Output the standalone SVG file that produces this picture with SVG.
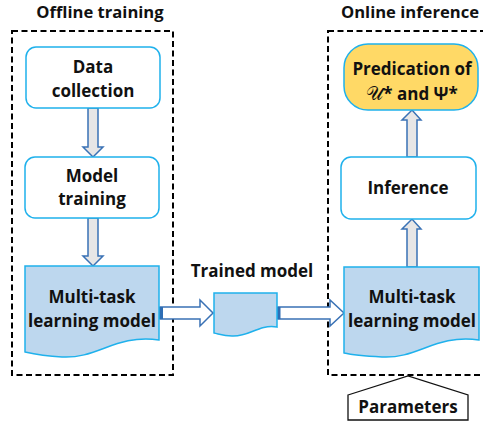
<svg xmlns="http://www.w3.org/2000/svg" width="483" height="425" viewBox="0 0 483 425">
  <style>
    .frame { fill: none; stroke: #000; stroke-width: 2; stroke-dasharray: 6 3.5; }
    .step { fill: #fff; stroke: #1FB1EC; stroke-width: 1.5; }
    .doc { fill: #BDD7EE; stroke: #1FB1EC; stroke-width: 1.5; }
    .result { fill: #FFD966; stroke: #1FB1EC; stroke-width: 1.5; }
    .flow { fill: #E7E6E6; stroke: #3A72B5; stroke-width: 1.5; stroke-linejoin: miter; }
    .pass { fill: #fff; stroke: #3A72B5; stroke-width: 1.5; stroke-linejoin: miter; }
    .tab { fill: #2E6DB4; }
    .label { font-family: "Open Sans", "Liberation Sans", sans-serif; font-weight: bold; font-size: 17px; fill: #111; text-anchor: middle; }
    .title { font-family: "Open Sans", "Liberation Sans", sans-serif; font-weight: bold; font-size: 16.6px; fill: #111; text-anchor: middle; }
    .math { font-family: "DejaVu Serif", "Liberation Serif", serif; font-weight: normal; font-size: 19px; }
    .tag { fill: #fff; stroke: #111; stroke-width: 1.3; }
  </style>

  <!-- stage frames -->
  <g id="offline-stage">
    <rect class="frame" x="12" y="31" width="161" height="344"/>
    <text class="title" x="100" y="18">Offline training</text>
  </g>
  <g id="online-stage">
    <rect class="frame" x="328" y="31" width="170" height="344"/>
    <text class="title" x="410" y="18">Online inference</text>
  </g>

  <!-- connectors -->
  <g id="connectors">
    <polygon class="flow" points="88,108 98,108 98,147 103,147 93,157 83,147 88,147"/>
    <polygon class="flow" points="88,218 98,218 98,256 103,256 93,266 83,256 88,256"/>
    <polygon class="flow" points="407,267 417,267 417,229 421,229 412,219 402,229 407,229"/>
    <polygon class="flow" points="407,157 417,157 417,120 421,120 412,110 402,120 407,120"/>
    <polygon class="pass" points="160,307 200,307 200,300 213,313 200,326 200,319 160,319"/>
    <rect class="tab" x="159" y="307" width="4" height="12"/>
    <polygon class="pass" points="278,307 330,307 330,300 344,313 330,326 330,319 278,319"/>
    <rect class="tab" x="277" y="307" width="3.5" height="12"/>
  </g>

  <g id="data-collection">
    <rect class="step" x="26" y="47" width="134" height="61" rx="10"/>
    <text class="label" x="93" y="73">Data</text>
    <text class="label" x="93" y="97">collection</text>
  </g>

  <g id="model-training">
    <rect class="step" x="25" y="157" width="134" height="61" rx="10"/>
    <text class="label" x="92" y="182">Model</text>
    <text class="label" x="92" y="205">training</text>
  </g>

  <g id="mtl-offline">
    <path class="doc" d="M25,266 H159 V340 C115,334 98,359 62,357 C45,356 34,354 25,352 Z"/>
    <text class="label" x="92" y="303">Multi-task</text>
    <text class="label" x="92" y="327">learning model</text>
  </g>

  <g id="trained-model">
    <path class="doc" d="M214,293 H277 V327 C258,324 250,337 232,336 C224,336 219,334 214,333 Z"/>
    <text class="label" x="252" y="277">Trained model</text>
  </g>

  <g id="mtl-online">
    <path class="doc" d="M344,267 H479 V340 C435,334 418,359 382,357 C365,356 353,355 344,353 Z"/>
    <text class="label" x="412" y="303">Multi-task</text>
    <text class="label" x="412" y="327">learning model</text>
  </g>

  <g id="inference">
    <rect class="step" x="341" y="157" width="135" height="62" rx="10"/>
    <text class="label" x="408" y="194">Inference</text>
  </g>

  <g id="prediction">
    <rect class="result" x="344" y="44" width="134" height="66" rx="24"/>
    <text class="label" x="412" y="75">Predication of</text>
    <text class="label" x="412" y="100"><tspan class="math">𝒰</tspan>* and Ψ*</text>
  </g>

  <g id="parameters">
    <polygon class="tag" points="348,395 408,376 468,395 468,420 348,420"/>
    <text class="label" x="408" y="413">Parameters</text>
  </g>
</svg>
